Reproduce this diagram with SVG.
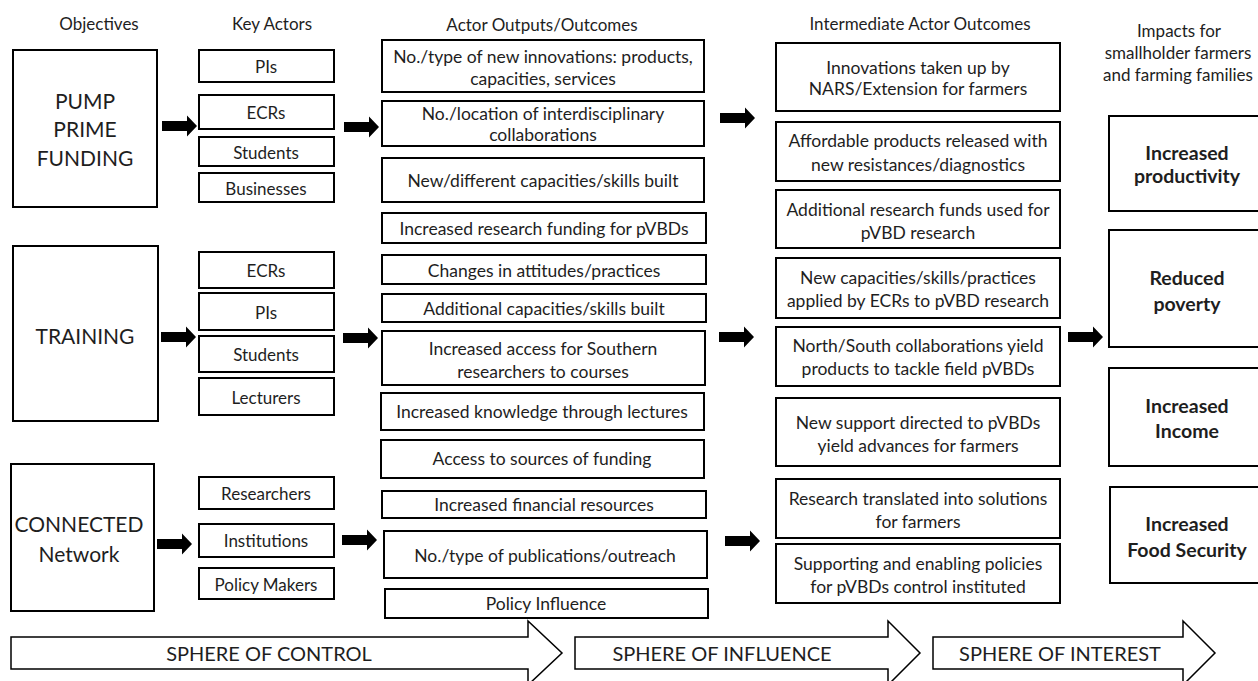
<svg xmlns="http://www.w3.org/2000/svg" width="1258" height="681" viewBox="0 0 1258 681">
<style>
text{font-family:Lato,"Liberation Sans",sans-serif;fill:#1e1e1e;text-anchor:middle;dominant-baseline:central}
.h{font-size:17px}
.b{font-size:17.5px}
.o{font-size:21px}
.k{font-size:17px}
.i{font-size:19.5px;font-weight:bold}
.s{font-size:20px}
rect{fill:#fff;stroke:#000;stroke-width:2}
.big{fill:#fff;stroke:#000;stroke-width:1.5}
</style>
<defs>
<path id="ar" d="M0,-5 H25 V-10.5 L35,0 L25,10.5 V5 H0 Z" fill="#000"/>
</defs>
<g id="headers">
<text class="h" x="99" y="23">Objectives</text>
<text class="h" x="272" y="23">Key Actors</text>
<text class="h" x="542" y="24">Actor Outputs/Outcomes</text>
<text class="h" x="920" y="23">Intermediate Actor Outcomes</text>
<text class="h" x="1179" y="30">Impacts for</text>
<text class="h" x="1178" y="52">smallholder farmers</text>
<text class="h" x="1178" y="74">and farming families</text>
</g>
<g id="obj-pump"><rect x="13" y="50" width="144" height="157"/><text class="o" x="85" y="100">PUMP</text><text class="o" x="85" y="128">PRIME</text><text class="o" x="85" y="157">FUNDING</text></g>
<g id="obj-training"><rect x="13" y="246" width="145" height="175"/><text class="o" x="85" y="335">TRAINING</text></g>
<g id="obj-network"><rect x="11" y="464" width="143" height="147"/><text class="o" x="79" y="523">CONNECTED</text><text class="o" x="79" y="553">Network</text></g>
<g id="ka-pis1"><rect x="199" y="50" width="135" height="32"/><text class="k" x="266" y="66">PIs</text></g>
<g id="ka-ecrs1"><rect x="199" y="95" width="135" height="34"/><text class="k" x="266" y="112">ECRs</text></g>
<g id="ka-students1"><rect x="199" y="137" width="135" height="29"/><text class="k" x="266" y="152">Students</text></g>
<g id="ka-businesses"><rect x="199" y="173" width="135" height="29"/><text class="k" x="266" y="188">Businesses</text></g>
<g id="ka-ecrs2"><rect x="199" y="252" width="135" height="36"/><text class="k" x="266" y="270">ECRs</text></g>
<g id="ka-pis2"><rect x="199" y="293" width="135" height="37"/><text class="k" x="266" y="312">PIs</text></g>
<g id="ka-students2"><rect x="199" y="336" width="135" height="36"/><text class="k" x="266" y="354">Students</text></g>
<g id="ka-lecturers"><rect x="199" y="378" width="135" height="37"/><text class="k" x="266" y="397">Lecturers</text></g>
<g id="ka-researchers"><rect x="199" y="477" width="135" height="32"/><text class="k" x="266" y="493">Researchers</text></g>
<g id="ka-institutions"><rect x="199" y="524" width="135" height="33"/><text class="k" x="266" y="540">Institutions</text></g>
<g id="ka-policymakers"><rect x="199" y="568" width="135" height="31"/><text class="k" x="266" y="584">Policy Makers</text></g>
<g id="ao-1"><rect x="382" y="40" width="322" height="52"/><text class="b" x="543" y="56">No./type of new innovations: products,</text><text class="b" x="543" y="78">capacities, services</text></g>
<g id="ao-2"><rect x="382" y="101" width="322" height="45"/><text class="b" x="543" y="113">No./location of interdisciplinary</text><text class="b" x="543" y="134">collaborations</text></g>
<g id="ao-3"><rect x="382" y="158" width="322" height="44"/><text class="b" x="543" y="180">New/different capacities/skills built</text></g>
<g id="ao-4"><rect x="382" y="213" width="324" height="30"/><text class="b" x="544" y="228">Increased research funding for pVBDs</text></g>
<g id="ao-5"><rect x="382" y="255" width="324" height="29"/><text class="b" x="544" y="270">Changes in attitudes/practices</text></g>
<g id="ao-6"><rect x="382" y="294" width="324" height="28"/><text class="b" x="544" y="308">Additional capacities/skills built</text></g>
<g id="ao-7"><rect x="382" y="331" width="323" height="54"/><text class="b" x="543" y="348">Increased access for Southern</text><text class="b" x="543" y="371">researchers to courses</text></g>
<g id="ao-8"><rect x="381" y="393" width="323" height="37"/><text class="b" x="542" y="411">Increased knowledge through lectures</text></g>
<g id="ao-9"><rect x="381" y="440" width="323" height="38"/><text class="b" x="542" y="458">Access to sources of funding</text></g>
<g id="ao-10"><rect x="382" y="491" width="324" height="27"/><text class="b" x="544" y="504">Increased financial resources</text></g>
<g id="ao-11"><rect x="384" y="531" width="323" height="47"/><text class="b" x="545" y="555">No./type of publications/outreach</text></g>
<g id="ao-12"><rect x="385" y="589" width="323" height="29"/><text class="b" x="546" y="603">Policy Influence</text></g>
<g id="io-1"><rect x="776" y="43" width="284" height="68"/><text class="b" x="918" y="67">Innovations taken up by</text><text class="b" x="918" y="88">NARS/Extension for farmers</text></g>
<g id="io-2"><rect x="776" y="122" width="284" height="59"/><text class="b" x="918" y="140">Affordable products released with</text><text class="b" x="918" y="164">new resistances/diagnostics</text></g>
<g id="io-3"><rect x="776" y="190" width="284" height="58"/><text class="b" x="918" y="209">Additional research funds used for</text><text class="b" x="918" y="232">pVBD research</text></g>
<g id="io-4"><rect x="776" y="258" width="284" height="60"/><text class="b" x="918" y="277">New capacities/skills/practices</text><text class="b" x="918" y="300">applied by ECRs to pVBD research</text></g>
<g id="io-5"><rect x="776" y="327" width="284" height="59"/><text class="b" x="918" y="345">North/South collaborations yield</text><text class="b" x="918" y="368">products to tackle field pVBDs</text></g>
<g id="io-6"><rect x="776" y="398" width="284" height="68"/><text class="b" x="918" y="422">New support directed to pVBDs</text><text class="b" x="918" y="445">yield advances for farmers</text></g>
<g id="io-7"><rect x="776" y="479" width="284" height="59"/><text class="b" x="918" y="498">Research translated into solutions</text><text class="b" x="918" y="521">for farmers</text></g>
<g id="io-8"><rect x="776" y="544" width="284" height="59"/><text class="b" x="918" y="563">Supporting and enabling policies</text><text class="b" x="918" y="586">for pVBDs control instituted</text></g>
<g id="im-1"><rect x="1109" y="116" width="170" height="95"/><text class="i" x="1187" y="152">Increased</text><text class="i" x="1187" y="175">productivity</text></g>
<g id="im-2"><rect x="1109" y="230" width="170" height="117"/><text class="i" x="1187" y="277">Reduced</text><text class="i" x="1187" y="303">poverty</text></g>
<g id="im-3"><rect x="1109" y="368" width="170" height="98"/><text class="i" x="1187" y="405">Increased</text><text class="i" x="1187" y="430">Income</text></g>
<g id="im-4"><rect x="1110" y="487" width="170" height="96"/><text class="i" x="1187" y="523">Increased</text><text class="i" x="1187" y="549">Food Security</text></g>
<g id="connectors">
<use href="#ar" x="162" y="126"/>
<use href="#ar" x="344" y="127"/>
<use href="#ar" x="720" y="118"/>
<use href="#ar" x="161" y="337"/>
<use href="#ar" x="343" y="338"/>
<use href="#ar" x="719" y="337"/>
<use href="#ar" x="157" y="544"/>
<use href="#ar" x="342" y="540"/>
<use href="#ar" x="725" y="541"/>
<use href="#ar" x="1068" y="337"/>
</g>
<g id="spheres">
<path class="big" d="M11,637 H528 V621 L562,653 L528,685 V669 H11 Z"/>
<path class="big" d="M575,637 H888 V621 L920,653 L888,685 V669 H575 Z"/>
<path class="big" d="M933,637 H1183 V621 L1215,653 L1183,685 V669 H933 Z"/>
<text class="s" x="269" y="653">SPHERE OF CONTROL</text>
<text class="s" x="722" y="653">SPHERE OF INFLUENCE</text>
<text class="s" x="1060" y="653">SPHERE OF INTEREST</text>
</g>
</svg>
